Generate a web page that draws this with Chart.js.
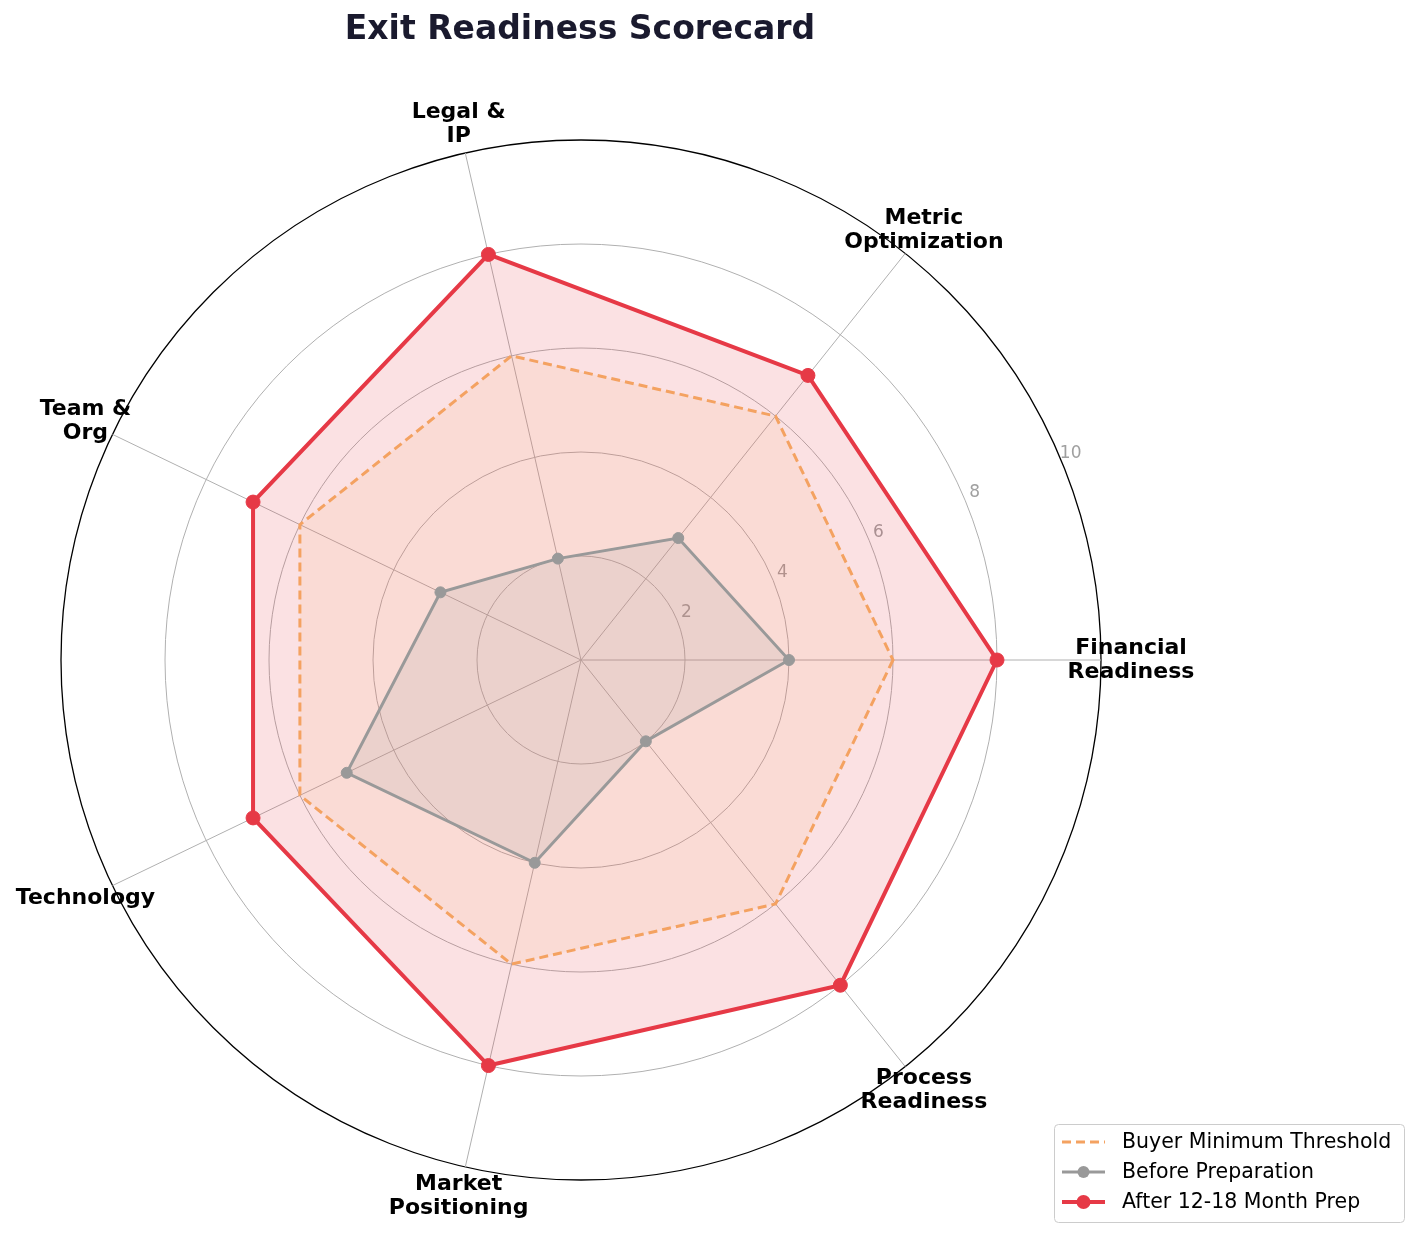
<!DOCTYPE html>
<html>
<head>
<meta charset="utf-8">
<script src="https://cdn.jsdelivr.net/npm/chart.js@4.4.0/dist/chart.umd.min.js"></script>
<style>
  html, body { margin: 0; padding: 0; background: #fff; }
  #wrap { width: 1418px; height: 1237px; }
</style>
</head>
<body>
<div id="wrap"><canvas id="chartCanvas" width="1418" height="1237"></canvas></div>
<script>
// categories, counter-clockwise from the right as in the picture
const categories = ['Financial\nReadiness', 'Metric\nOptimization', 'Legal &\nIP', 'Team &\nOrg', 'Technology', 'Market\nPositioning', 'Process\nReadiness'];
const thresholdScores = [6, 6, 6, 6, 6, 6, 6];
const beforeScores = [4, 3, 2, 3, 5, 4, 2];
const afterScores = [8, 7, 8, 7, 7, 8, 8];
const tickValues = [2, 4, 6, 8, 10];
const seriesNames = ['Buyer Minimum Threshold', 'Before Preparation', 'After 12-18 Month Prep'];

const RED = '#e63946';
const GREY = '#999999';
const ORANGE = '#f4a261';
const FONT = "'DejaVu Sans', sans-serif";

// chart.js walks clockwise, the picture goes counter-clockwise, so flip the order
const order = [0, 6, 5, 4, 3, 2, 1];
const pick = arr => order.map(i => arr[i]);

const overlay = {
    id: 'overlay',
    beforeDatasetsDraw(chart) {
        const ctx = chart.ctx;
        const r = chart.scales.r;
        const a = 22.5 * Math.PI / 180;
        ctx.save();
        ctx.font = '17px ' + FONT;
        ctx.fillStyle = '#a0a0a0';
        ctx.textAlign = 'center';
        ctx.textBaseline = 'middle';
        tickValues.forEach(v => {
            const d = r.getDistanceFromCenterForValue(v) + 10;
            ctx.fillText(String(v), r.xCenter + d * Math.cos(a), r.yCenter - d * Math.sin(a) - 4);
        });
        ctx.restore();
    },
    afterDraw(chart) {
        const ctx = chart.ctx;
        const r = chart.scales.r;
        ctx.save();

        // category labels
        ctx.font = 'bold 22px ' + FONT;
        ctx.fillStyle = '#000';
        ctx.textAlign = 'center';
        ctx.textBaseline = 'middle';
        const labels = chart.data.labels;
        labels.forEach((lab, i) => {
            const p = r.getPointPosition(i, r.drawingArea + 30);
            const lines = lab.split('\n');
            const lh = 24;
            lines.forEach((ln, k) => {
                ctx.fillText(ln, p.x, p.y + (k - (lines.length - 1) / 2) * lh);
            });
        });

        // title
        ctx.font = 'bold 33px ' + FONT;
        ctx.fillStyle = '#1a1a2e';
        ctx.fillText('Exit Readiness Scorecard', 580, 30);

        // legend
        const bx = 1054, by = 1124, bw = 350, bh = 98;
        ctx.fillStyle = '#fff';
        ctx.strokeStyle = '#cccccc';
        ctx.lineWidth = 1;
        ctx.beginPath();
        ctx.roundRect(bx + 0.5, by + 0.5, bw, bh, 4);
        ctx.fill();
        ctx.stroke();

        const items = [
            { color: ORANGE, dash: [9, 5], width: 3, marker: 0 },
            { color: GREY, dash: [], width: 3, marker: 6 },
            { color: RED, dash: [], width: 4, marker: 7 }
        ];
        ctx.textAlign = 'left';
        ctx.font = '20.5px ' + FONT;
        items.forEach((it, k) => {
            const y = 1142 + k * 30;
            ctx.strokeStyle = it.color;
            ctx.lineWidth = it.width;
            ctx.setLineDash(it.dash);
            ctx.beginPath();
            ctx.moveTo(1062, y);
            ctx.lineTo(1105, y);
            ctx.stroke();
            ctx.setLineDash([]);
            if (it.marker) {
                ctx.fillStyle = it.color;
                ctx.beginPath();
                ctx.arc(1083.5, y, it.marker, 0, Math.PI * 2);
                ctx.fill();
            }
            ctx.fillStyle = '#000';
            ctx.fillText(seriesNames[k], 1122, y + 1);
        });
        ctx.restore();
    }
};

const config = {
    type: 'radar',
    data: {
        labels: pick(categories),
        datasets: [
            {
                label: seriesNames[2],
                data: pick(afterScores),
                borderColor: RED,
                backgroundColor: 'rgba(230,57,70,0.15)',
                borderWidth: 4,
                pointRadius: 7,
                pointBackgroundColor: RED,
                pointBorderColor: RED,
                pointBorderWidth: 1,
                fill: true,
                order: 3
            },
            {
                label: seriesNames[1],
                data: pick(beforeScores),
                borderColor: GREY,
                backgroundColor: 'rgba(153,153,153,0.15)',
                borderWidth: 3,
                pointRadius: 5.5,
                pointBackgroundColor: GREY,
                pointBorderColor: GREY,
                pointBorderWidth: 1,
                fill: true,
                order: 1
            },
            {
                label: seriesNames[0],
                data: pick(thresholdScores),
                borderColor: ORANGE,
                backgroundColor: 'rgba(244,162,97,0.1)',
                borderWidth: 3,
                borderDash: [9, 5],
                pointRadius: 0,
                fill: true,
                order: 2
            }
        ]
    },
    options: {
        responsive: false,
        animation: false,
        layout: {
            padding: { left: 61, right: 317, top: 140, bottom: 57 }
        },
        plugins: {
            legend: { display: false },
            title: { display: false },
            tooltip: { enabled: false }
        },
        elements: { line: { tension: 0 } },
        scales: {
            r: {
                min: 0,
                max: 10,
                startAngle: 90,
                ticks: { display: false, stepSize: 2 },
                pointLabels: { display: false },
                grid: {
                    circular: true,
                    color: ctx => ctx.tick && ctx.tick.value === 10 ? '#000000' : '#b0b0b0',
                    lineWidth: ctx => ctx.tick && ctx.tick.value === 10 ? 1.3 : 1
                },
                angleLines: { color: '#b0b0b0', lineWidth: 1 }
            }
        }
    },
    plugins: [overlay]
};

window.onload = function() {
    let chartCanvas = document.getElementById('chartCanvas').getContext('2d');
    new Chart(chartCanvas, config);
};
</script>
</body>
</html>
